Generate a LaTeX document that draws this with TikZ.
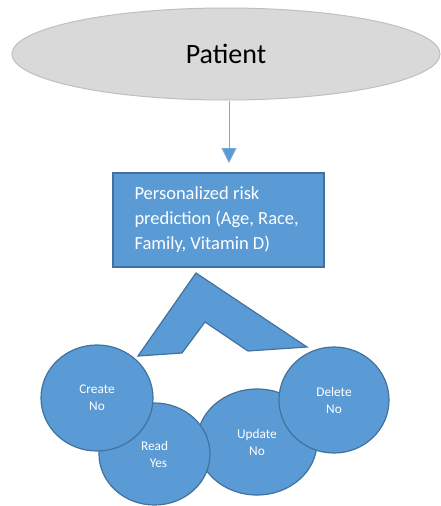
\documentclass[tikz,border=0pt]{standalone}
\usepackage{fontspec}
\setmainfont{Carlito}
\usetikzlibrary{shapes.geometric,arrows.meta}
\definecolor{blueFill}{HTML}{5B9BD5}
\definecolor{blueEdge}{HTML}{41719C}
\definecolor{greyFill}{HTML}{D9D9D9}
\definecolor{greyEdge}{HTML}{BFBFBF}
\tikzset{
  actor/.style={ellipse, fill=greyFill, draw=greyEdge, line width=1pt,
    minimum width=428pt, minimum height=92pt, inner sep=0pt,
    font=\fontsize{28}{32}\selectfont},
  riskbox/.style={rectangle, fill=blueFill, draw=blueEdge, line width=1.2pt,
    minimum height=94pt, text width=168pt, inner xsep=21.5pt, outer sep=0pt,
    align=flush left, text=white, font=\fontsize{18.5}{25}\selectfont},
  crud/.style={ellipse, fill=blueFill, draw=blueEdge, line width=1.2pt,
    inner sep=0pt, text=white, align=center, font=\fontsize{13.3}{17}\selectfont},
  flow/.style={draw=blueFill!85!white, line width=0.9pt,
    -{Triangle[width=15pt,length=15pt,fill=blueFill]}},
  chevron/.style={fill=blueFill, draw=blueEdge, line width=1.2pt, line join=miter}
}
\begin{document}
\begin{tikzpicture}[x=1pt,y=-1pt]
\useasboundingbox (0,0) rectangle (441,506);

% patient and risk prediction
\node[actor] (patient) at (226,54) {Patient};
\node[riskbox] (risk) at (218.5,220) {Personalized risk\\prediction (Age, Race,\\Family, Vitamin D)};
\coordinate (tip) at (229,163);
\draw[flow] (patient.south -| tip) -- (tip);

% bent connector shape
\draw[chevron] (196,273) -- (307,347) -- (248,351) -- (205,322) -- (182,353) -- (138,356) -- cycle;

% CRUD permissions
\node[crud, minimum width=120pt, minimum height=106pt] (update) at (257,442) {Update\\No};
\node[crud, minimum width=111pt, minimum height=102pt] (read) at (154.5,454) {Read\\\hspace*{8pt}Yes};
\node[crud, minimum width=112pt, minimum height=106pt] (create) at (97,398) {Create\\No};
\node[crud, minimum width=110pt, minimum height=106pt] (delete) at (334,400) {Delete\\No};
\end{tikzpicture}
\end{document}
